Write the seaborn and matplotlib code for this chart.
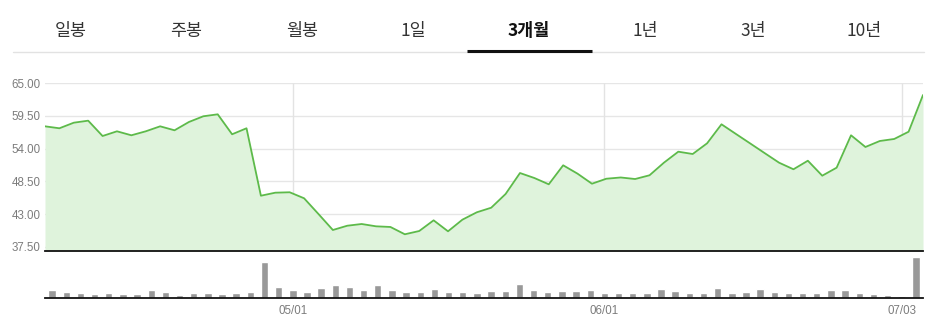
import numpy as np
import pandas as pd
import matplotlib
matplotlib.use("Agg")
import matplotlib.pyplot as plt
import seaborn as sns

# ---- data ----
tabs = ["일봉", "주봉", "월봉", "1일", "3개월", "1년", "3년", "10년"]
active_tab = "3개월"

price = [57.76, 57.43, 58.37, 58.71, 56.13, 56.92, 56.25, 56.92, 57.76, 57.09,
         58.49, 59.45, 59.78, 56.42, 57.43, 46.08, 46.59, 46.66, 45.65, 43.00,
         40.31, 41.03, 41.32, 40.93, 40.82, 39.59, 40.14, 41.94, 40.09, 42.05,
         43.29, 44.06, 46.37, 49.90, 49.06, 48.00, 51.20, 49.79, 48.10, 48.94,
         49.15, 48.89, 49.52, 51.64, 53.49, 53.10, 54.90, 58.10, 56.48, 54.87,
         53.25, 51.64, 50.53, 51.97, 49.45, 50.80, 56.25, 54.28, 55.29, 55.63,
         56.85, 63.03]

volume = [83, 63, 53, 43, 50, 43, 43, 80, 63, 33,
          53, 53, 43, 53, 63, 363, 117, 83, 67, 103,
          137, 117, 80, 133, 80, 63, 63, 93, 63, 67,
          53, 73, 73, 143, 83, 63, 73, 73, 83, 53,
          53, 50, 53, 93, 73, 53, 53, 100, 50, 67,
          93, 67, 50, 53, 53, 83, 80, 50, 43, 33,
          23, 413]

date_tick_idx = [17, 39, 60]
date_tick_labels = ["05/01", "06/01", "07/03"]
y_ticks = [37.50, 43.00, 48.50, 54.00, 59.50, 65.00]

n = len(price)
idx = np.arange(n)
df = pd.DataFrame({"idx": idx, "price": price, "volume": volume})

sns.set_theme(style="white")
plt.rcParams["font.family"] = ["Liberation Sans", "DejaVu Sans"]

W, H = 941, 326
fig = plt.figure(figsize=(W / 100, H / 100), dpi=100)
fig.patch.set_facecolor("white")

def fx(px):
    return px / W

def fy(py):
    return 1 - py / H

# ---- tab bar ----
kfont = ["Noto Sans CJK KR", "DejaVu Sans"]
tab_centers = [71, 186, 302, 413, 529, 645, 753, 864]
for t, cx in zip(tabs, tab_centers):
    bold = (t == active_tab)
    fig.text(fx(cx), fy(31), t, ha="center", va="center", fontsize=12.5,
             family=kfont, color="#111111" if bold else "#333333",
             fontweight="bold" if bold else "normal")
fig.add_artist(plt.Line2D([fx(13), fx(924)], [fy(51.5), fy(51.5)],
                          color="#e2e2e2", lw=1.0))
fig.add_artist(plt.Line2D([fx(467), fx(592)], [fy(51), fy(51)],
                          color="#111111", lw=2.2, solid_capstyle="butt"))

# ---- price axes ----
left, right = 45, 923
ax = fig.add_axes([fx(left), fy(251.3), (right - left) / W, (251.3 - 83.3) / H])
px_per = (246.7 - 83.3) / 27.5
ymin = 37.5 - (251.3 - 246.7) / px_per
ax.set_xlim(0, n - 1)
ax.set_ylim(ymin, 65.0)

for yt in y_ticks:
    ax.axhline(yt, color="#e6e6e6", lw=1.0, zorder=0)
vpos = [(i + 0.5) * (n - 1) / n for i in date_tick_idx]
ax.vlines(vpos, 37.5, 65.0, color="#e3e3e3", lw=1.0, zorder=0)

ax.fill_between(df["idx"], df["price"], ymin, color="#dff3dc", lw=0, zorder=1)
sns.lineplot(data=df, x="idx", y="price", ax=ax, color="#5dba4a", lw=1.3, zorder=3)

ax.set_yticks(y_ticks)
ax.set_yticklabels([f"{v:.2f}" for v in y_ticks], fontsize=8.3, color="#7c7c7c")
ax.tick_params(axis="y", length=0, pad=3)
ax.set_xticks([])
ax.set_xlabel("")
ax.set_ylabel("")
for s in ["top", "left", "right"]:
    ax.spines[s].set_visible(False)
ax.spines["bottom"].set_color("#111111")
ax.spines["bottom"].set_linewidth(1.3)
ax.patch.set_alpha(0)

# ---- volume axes ----
vax = fig.add_axes([fx(left), fy(298.3), (right - left) / W, (298.3 - 251.3) / H])
sns.barplot(data=df, x="idx", y="volume", ax=vax, color="#999999",
            saturation=1, width=0.52, native_scale=False)
vax.set_xlim(-0.5, n - 0.5)
vax.set_ylim(0, max(volume) * 1.138)
vax.set_yticks([])
vax.set_xticks(date_tick_idx)
vax.set_xticklabels(date_tick_labels, fontsize=8.3, color="#7c7c7c")
vax.tick_params(axis="x", length=3, width=1, color="#333333", pad=2, direction="out")
vax.set_xlabel("")
vax.set_ylabel("")
for s in ["top", "left", "right"]:
    vax.spines[s].set_visible(False)
vax.spines["bottom"].set_color("#111111")
vax.spines["bottom"].set_linewidth(1.3)
vax.patch.set_alpha(0)

fig.savefig("out.png", dpi=100, facecolor="white")
